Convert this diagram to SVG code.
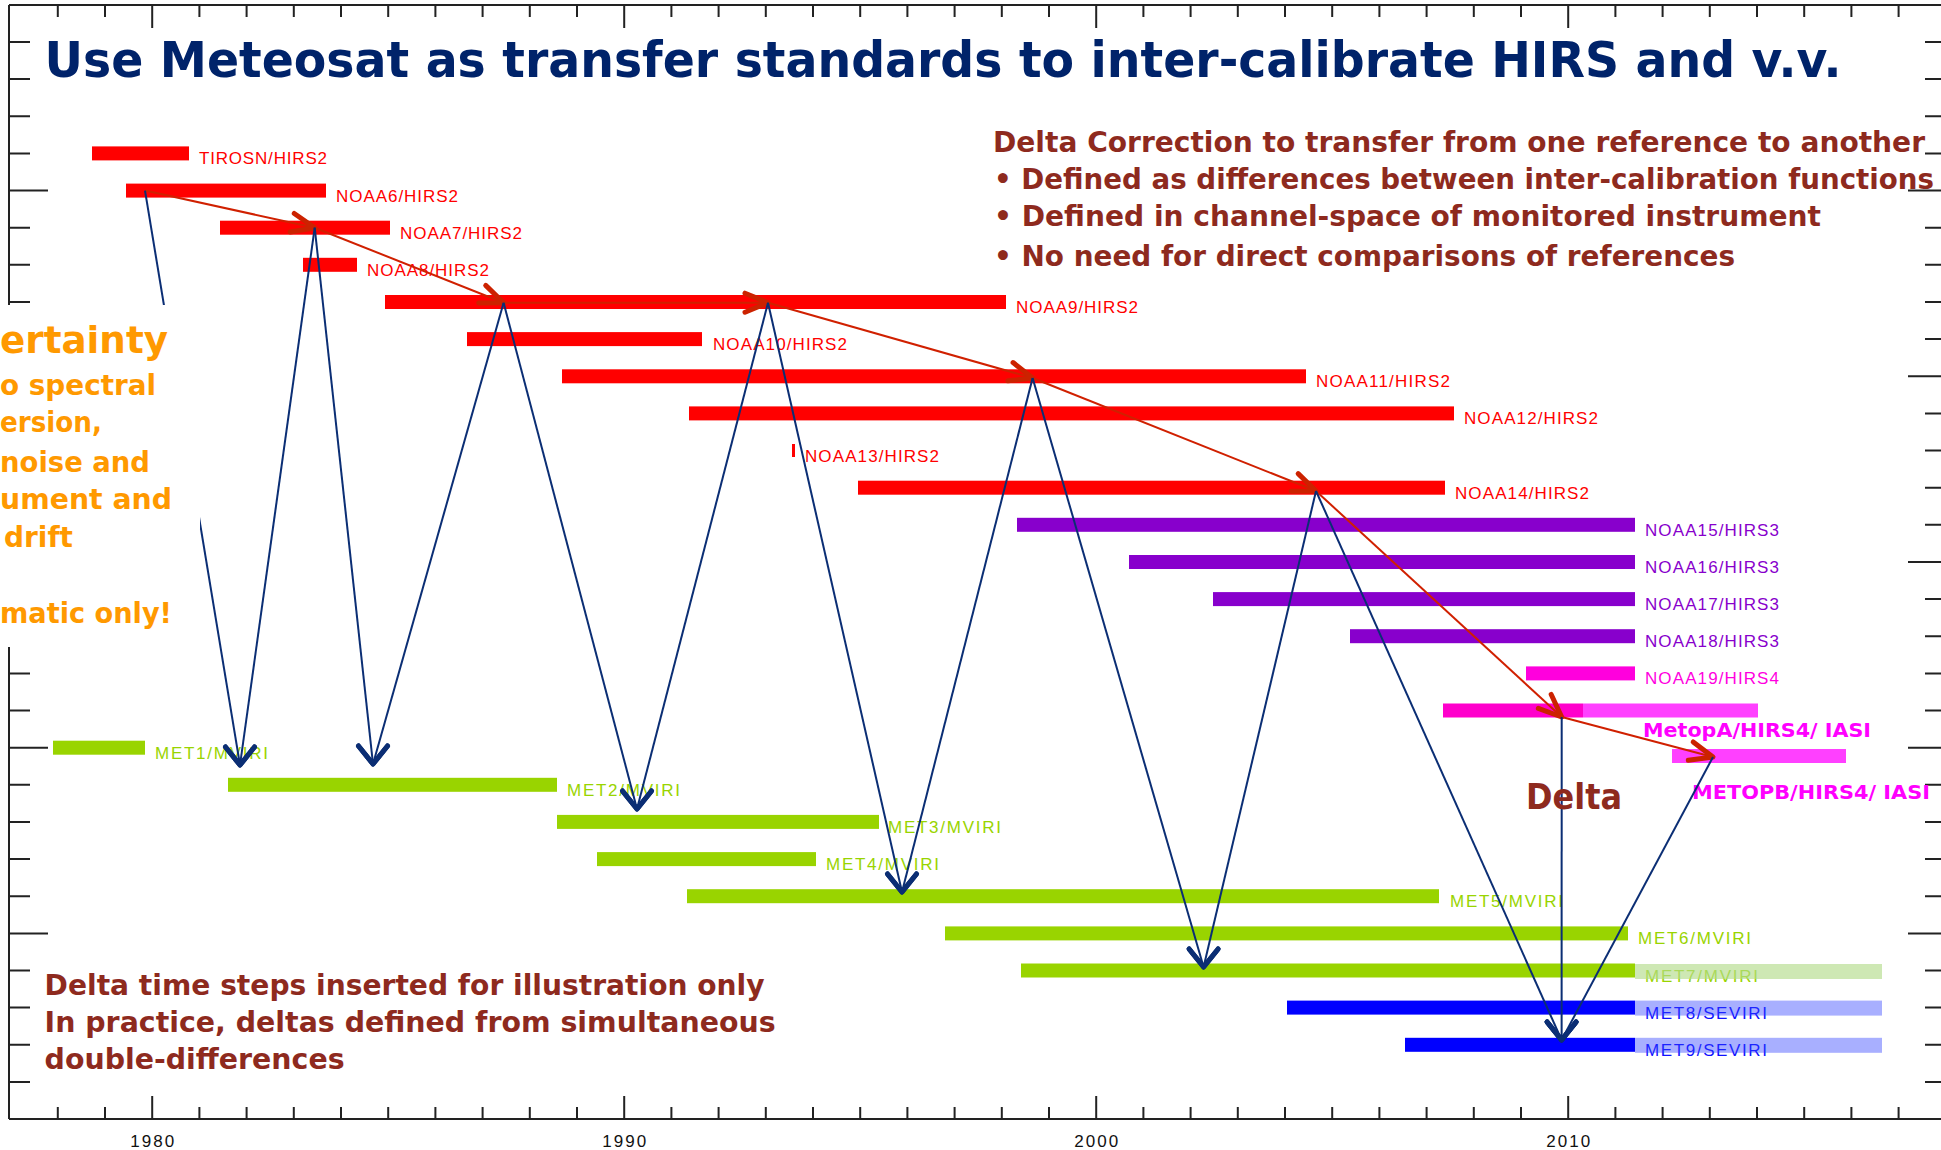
<svg xmlns="http://www.w3.org/2000/svg" xmlns:xlink="http://www.w3.org/1999/xlink" width="1941" height="1150" viewBox="0 0 1941 1150">
<style>
.ax{stroke:#222;stroke-width:2;fill:none}
.lbl{font-family:"Liberation Sans",Arial,sans-serif;font-size:17px}
.yr{font-family:"Liberation Sans",Arial,sans-serif;font-size:17px;fill:#111;text-anchor:middle}
.bold{font-family:"DejaVu Sans","Liberation Sans",sans-serif;font-weight:bold}
.red{fill:#FF0000}.pur{fill:#8800CC}.mag{fill:#FF00DD}.grn{fill:#99D400}.blu{fill:#0000FF}
.tred{fill:#FF0000}.tpur{fill:#8800CC}.tmag{fill:#FF00E0}.tgrn{fill:#99D400}.tblu{fill:#1010FF}
.dr{fill:#8E2A1E}
.or{fill:#FF9900}
.rl{stroke:#D02000;stroke-width:2;fill:none;marker-end:url(#ra)}
.bl{stroke:#0B2E74;stroke-width:2;fill:none}
.ba{marker-end:url(#ba)}
</style>
<defs>
<marker id="ra" markerUnits="userSpaceOnUse" viewBox="-30 -15 34 30" refX="0" refY="0" markerWidth="34" markerHeight="30" orient="auto" overflow="visible">
<path d="M-23,-9.5 L0,0 L-23,9.5" fill="none" stroke="#CC2200" stroke-width="5" stroke-linecap="round" stroke-linejoin="round"/>
</marker>
<marker id="ba" markerUnits="userSpaceOnUse" viewBox="-25 -20 30 40" refX="0" refY="0" markerWidth="30" markerHeight="40" orient="90" overflow="visible">
<path d="M-18,-14.5 L0,0 L-18,14.5" fill="none" stroke="#0B2E74" stroke-width="5" stroke-linecap="round" stroke-linejoin="round"/>
</marker>
</defs>
<rect x="0" y="0" width="1941" height="1150" fill="#FFFFFF"/>

<g id="axes">
<line class="ax" x1="9" y1="5" x2="1941" y2="5"/>
<line class="ax" x1="9" y1="5" x2="9" y2="1119"/>
<line class="ax" x1="9" y1="1119" x2="1941" y2="1119"/>
<path class="ax" d="M57.8,5V17M105,5V17M152.2,5V28M199.4,5V17M246.6,5V17M293.8,5V17M341,5V17M388.2,5V17M435.4,5V17M482.6,5V17M529.8,5V17M577,5V17M624.2,5V28M671.4,5V17M718.6,5V17M765.8,5V17M813,5V17M860.2,5V17M907.4,5V17M954.6,5V17M1001.8,5V17M1049,5V17M1096.2,5V28M1143.4,5V17M1190.6,5V17M1237.8,5V17M1285,5V17M1332.2,5V17M1379.4,5V17M1426.6,5V17M1473.8,5V17M1521,5V17M1568.2,5V28M1615.4,5V17M1662.6,5V17M1709.8,5V17M1757,5V17M1804.2,5V17M1851.4,5V17M1898.6,5V17"/>
<path class="ax" d="M57.8,1119V1107M105,1119V1107M152.2,1119V1096M199.4,1119V1107M246.6,1119V1107M293.8,1119V1107M341,1119V1107M388.2,1119V1107M435.4,1119V1107M482.6,1119V1107M529.8,1119V1107M577,1119V1107M624.2,1119V1096M671.4,1119V1107M718.6,1119V1107M765.8,1119V1107M813,1119V1107M860.2,1119V1107M907.4,1119V1107M954.6,1119V1107M1001.8,1119V1107M1049,1119V1107M1096.2,1119V1096M1143.4,1119V1107M1190.6,1119V1107M1237.8,1119V1107M1285,1119V1107M1332.2,1119V1107M1379.4,1119V1107M1426.6,1119V1107M1473.8,1119V1107M1521,1119V1107M1568.2,1119V1096M1615.4,1119V1107M1662.6,1119V1107M1709.8,1119V1107M1757,1119V1107M1804.2,1119V1107M1851.4,1119V1107M1898.6,1119V1107"/>
<path class="ax" d="M9,42H30M9,79.1H30M9,116.3H30M9,153.4H30M9,190.6H48M9,227.7H30M9,264.8H30M9,302H30M9,339.1H30M9,376.3H48M9,413.4H30M9,450.5H30M9,487.7H30M9,524.8H30M9,562H48M9,599.1H30M9,636.2H30M9,673.4H30M9,710.5H30M9,747.7H48M9,784.8H30M9,821.9H30M9,859.1H30M9,896.2H30M9,933.4H48M9,970.5H30M9,1007.6H30M9,1044.8H30M9,1081.9H30"/>
<path class="ax" d="M1941,42H1925M1941,79.1H1925M1941,116.3H1925M1941,153.4H1925M1941,190.6H1908M1941,227.7H1925M1941,264.8H1925M1941,302H1925M1941,339.1H1925M1941,376.3H1908M1941,413.4H1925M1941,450.5H1925M1941,487.7H1925M1941,524.8H1925M1941,562H1908M1941,599.1H1925M1941,636.2H1925M1941,673.4H1925M1941,710.5H1925M1941,747.7H1908M1941,784.8H1925M1941,821.9H1925M1941,859.1H1925M1941,896.2H1925M1941,933.4H1908M1941,970.5H1925M1941,1007.6H1925M1941,1044.8H1925M1941,1081.9H1925"/>
<text class="yr" x="152.2" y="1147" textLength="44">1980</text>
<text class="yr" x="624.2" y="1147" textLength="44">1990</text>
<text class="yr" x="1096.2" y="1147" textLength="44">2000</text>
<text class="yr" x="1568.2" y="1147" textLength="44">2010</text>
</g>

<g id="title">
<text class="bold" x="44.6" y="77" font-size="49" fill="#00236A" textLength="1797" lengthAdjust="spacingAndGlyphs">Use Meteosat as transfer standards to inter-calibrate HIRS and v.v.</text>
</g>

<g id="delta-correction-note" class="bold dr">
<text x="993" y="152" font-size="28" textLength="932" lengthAdjust="spacingAndGlyphs">Delta Correction to transfer from one reference to another</text>
<text x="994" y="189" font-size="27.5" textLength="940" lengthAdjust="spacingAndGlyphs">• Defined as differences between inter-calibration functions</text>
<text x="994" y="226" font-size="29" textLength="827" lengthAdjust="spacingAndGlyphs">• Defined in channel-space of monitored instrument</text>
<text x="994" y="266" font-size="29" textLength="741" lengthAdjust="spacingAndGlyphs">• No need for direct comparisons of references</text>
</g>

<g id="tirosn"><rect class="red" x="92" y="146.4" width="97" height="14"/><text class="lbl tred" x="199" y="164.4" textLength="128">TIROSN/HIRS2</text></g>
<g id="noaa6"><rect class="red" x="126" y="183.6" width="200" height="14"/><text class="lbl tred" x="336" y="201.6" textLength="122">NOAA6/HIRS2</text></g>
<g id="noaa7"><rect class="red" x="220" y="220.7" width="170" height="14"/><text class="lbl tred" x="400" y="238.7" textLength="122">NOAA7/HIRS2</text></g>
<g id="noaa8"><rect class="red" x="303" y="257.8" width="54" height="14"/><text class="lbl tred" x="367" y="275.8" textLength="122">NOAA8/HIRS2</text></g>
<g id="noaa9"><rect class="red" x="385" y="295" width="621" height="14"/><text class="lbl tred" x="1016" y="313" textLength="122">NOAA9/HIRS2</text></g>
<g id="noaa10"><rect class="red" x="467" y="332.1" width="235" height="14"/><text class="lbl tred" x="713" y="350" textLength="134">NOAA10/HIRS2</text></g>
<g id="noaa11"><rect class="red" x="562" y="369.3" width="744" height="14"/><text class="lbl tred" x="1316" y="387" textLength="134">NOAA11/HIRS2</text></g>
<g id="noaa12"><rect class="red" x="689" y="406.4" width="765" height="14"/><text class="lbl tred" x="1464" y="424" textLength="134">NOAA12/HIRS2</text></g>
<g id="noaa13"><rect class="red" x="792" y="444" width="3" height="13"/><text class="lbl tred" x="805" y="461.5" textLength="134">NOAA13/HIRS2</text></g>
<g id="noaa14"><rect class="red" x="858" y="480.7" width="587" height="14"/><text class="lbl tred" x="1455" y="498.7" textLength="134">NOAA14/HIRS2</text></g>
<g id="noaa15"><rect class="pur" x="1017" y="517.8" width="618" height="14"/><text class="lbl tpur" x="1645" y="535.8" textLength="134">NOAA15/HIRS3</text></g>
<g id="noaa16"><rect class="pur" x="1129" y="555" width="506" height="14"/><text class="lbl tpur" x="1645" y="573" textLength="134">NOAA16/HIRS3</text></g>
<g id="noaa17"><rect class="pur" x="1213" y="592.1" width="422" height="14"/><text class="lbl tpur" x="1645" y="610" textLength="134">NOAA17/HIRS3</text></g>
<g id="noaa18"><rect class="pur" x="1350" y="629.2" width="285" height="14"/><text class="lbl tpur" x="1645" y="647" textLength="134">NOAA18/HIRS3</text></g>
<g id="noaa19"><rect class="mag" x="1526" y="666.4" width="109" height="14"/><text class="lbl tmag" x="1645" y="684.4" textLength="134">NOAA19/HIRS4</text></g>
<g id="metopa"><rect x="1443" y="703.5" width="140" height="14" fill="#FF00CC"/><rect x="1583" y="703.5" width="175" height="14" fill="#FF40FF"/><text class="bold" x="1643" y="737" font-size="19" fill="#FF00FF" textLength="228" lengthAdjust="spacingAndGlyphs">MetopA/HIRS4/ IASI</text></g>
<g id="metopb"><rect x="1672" y="749" width="174" height="14" fill="#FF40FF"/><text class="bold" x="1692" y="799" font-size="19" fill="#FF00FF" textLength="238" lengthAdjust="spacingAndGlyphs">METOPB/HIRS4/ IASI</text></g>
<g id="met1"><rect class="grn" x="53" y="740.7" width="92" height="14"/><text class="lbl tgrn" x="155" y="758.7" textLength="113">MET1/MVIRI</text></g>
<g id="met2"><rect class="grn" x="228" y="777.8" width="329" height="14"/><text class="lbl tgrn" x="567" y="795.8" textLength="113">MET2/MVIRI</text></g>
<g id="met3"><rect class="grn" x="557" y="814.9" width="322" height="14"/><text class="lbl tgrn" x="888" y="833" textLength="113">MET3/MVIRI</text></g>
<g id="met4"><rect class="grn" x="597" y="852.1" width="219" height="14"/><text class="lbl tgrn" x="826" y="870" textLength="113">MET4/MVIRI</text></g>
<g id="met5"><rect class="grn" x="687" y="889.2" width="752" height="14"/><text class="lbl tgrn" x="1450" y="907" textLength="113">MET5/MVIRI</text></g>
<g id="met6"><rect class="grn" x="945" y="926.4" width="683" height="14"/><text class="lbl tgrn" x="1638" y="944" textLength="113">MET6/MVIRI</text></g>
<g id="met7"><rect class="grn" x="1021" y="963.5" width="614" height="14"/><text class="lbl tgrn" x="1645" y="981.5" textLength="113">MET7/MVIRI</text><rect x="1635" y="964" width="247" height="15" fill="#B4DC8C" opacity="0.65"/></g>
<g id="met8"><rect class="blu" x="1287" y="1000.6" width="348" height="14"/><text class="lbl tblu" x="1645" y="1018.6" textLength="122">MET8/SEVIRI</text><rect x="1635" y="1000.6" width="247" height="15" fill="#3040FF" opacity="0.42"/></g>
<g id="met9"><rect class="blu" x="1405" y="1037.8" width="230" height="14"/><text class="lbl tblu" x="1645" y="1055.8" textLength="122">MET9/SEVIRI</text><rect x="1635" y="1037.8" width="247" height="15" fill="#3040FF" opacity="0.42"/></g>

<g id="connectors">
<line class="rl" x1="145" y1="190.6" x2="314.7" y2="227.7"/>
<line class="rl" x1="314.7" y1="227.7" x2="503.6" y2="302.7"/>
<line class="rl" x1="503.6" y1="302.7" x2="768" y2="302.7"/>
<line class="rl" x1="768" y1="302.7" x2="1032.6" y2="378"/>
<line class="rl" x1="1032.6" y1="378" x2="1316" y2="491"/>
<line class="rl" x1="1316" y1="491" x2="1561.7" y2="717"/>
<line class="rl" x1="1561.7" y1="717" x2="1713" y2="757"/>
<line class="bl ba" x1="145" y1="190.6" x2="240" y2="765"/>
<line class="bl ba" x1="314.7" y1="227.7" x2="240" y2="765"/>
<line class="bl ba" x1="314.7" y1="227.7" x2="373" y2="764"/>
<line class="bl ba" x1="503.6" y1="302.7" x2="373" y2="764"/>
<line class="bl ba" x1="503.6" y1="302.7" x2="637" y2="809"/>
<line class="bl ba" x1="768" y1="302.7" x2="637" y2="809"/>
<line class="bl ba" x1="768" y1="302.7" x2="902" y2="892"/>
<line class="bl ba" x1="1032.6" y1="378" x2="902" y2="892"/>
<line class="bl ba" x1="1032.6" y1="378" x2="1203.6" y2="967"/>
<line class="bl ba" x1="1316" y1="491" x2="1203.6" y2="967"/>
<line class="bl ba" x1="1316" y1="491" x2="1561.6" y2="1040"/>
<line class="bl ba" x1="1561.7" y1="717" x2="1561.6" y2="1040"/>
<line class="bl ba" x1="1713" y1="757" x2="1561.6" y2="1040"/>
</g>

<g id="uncertainty-note">
<path d="M0,305H200V529H190V647H0Z" fill="#FFFFFF"/>
<text class="bold or" x="0" y="353" font-size="38" textLength="168" lengthAdjust="spacingAndGlyphs">ertainty</text>
<text class="bold or" x="0" y="395" font-size="29" textLength="156" lengthAdjust="spacingAndGlyphs">o spectral</text>
<text class="bold or" x="0" y="432" font-size="29" textLength="102" lengthAdjust="spacingAndGlyphs">ersion,</text>
<text class="bold or" x="0" y="472" font-size="29" textLength="150" lengthAdjust="spacingAndGlyphs">noise and</text>
<text class="bold or" x="0" y="509" font-size="29" textLength="172" lengthAdjust="spacingAndGlyphs">ument  and</text>
<text class="bold or" x="4" y="547" font-size="29" textLength="69" lengthAdjust="spacingAndGlyphs">drift</text>
<text class="bold or" x="0" y="623" font-size="29" textLength="172" lengthAdjust="spacingAndGlyphs">matic only!</text>
</g>

<g id="delta-label">
<text class="bold dr" x="1526" y="809" font-size="36" textLength="96" lengthAdjust="spacingAndGlyphs">Delta</text>
</g>

<g id="illustration-note" class="bold dr" font-size="29">
<text x="44.6" y="995" textLength="720" lengthAdjust="spacingAndGlyphs">Delta time steps inserted for illustration only</text>
<text x="44.6" y="1032" textLength="731" lengthAdjust="spacingAndGlyphs">In practice, deltas defined from simultaneous</text>
<text x="44.6" y="1069" textLength="300" lengthAdjust="spacingAndGlyphs">double-differences</text>
</g>
</svg>
